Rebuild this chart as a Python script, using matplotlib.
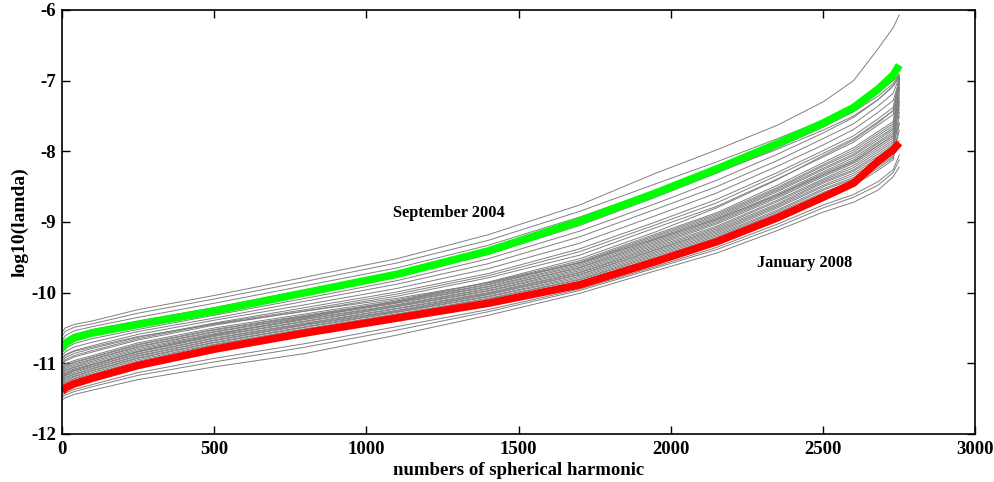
import matplotlib
matplotlib.use("Agg")
import matplotlib.pyplot as plt

plt.rcParams['font.family'] = ['Liberation Serif', 'DejaVu Serif']
plt.rcParams['font.weight'] = 'bold'
plt.rcParams['axes.unicode_minus'] = False

knots = [0, 10, 40, 100, 250, 500, 800, 1100, 1400, 1700, 1950, 2150, 2350, 2500, 2600, 2680, 2730, 2750]

# highlighted months
sep2004 = [-10.80, -10.72, -10.64, -10.57, -10.45, -10.26, -10.00, -9.74, -9.41, -8.99,
           -8.59, -8.25, -7.89, -7.60, -7.38, -7.12, -6.92, -6.78]
jan2008 = [-11.40, -11.35, -11.29, -11.21, -11.03, -10.80, -10.57, -10.36, -10.15, -9.89,
           -9.56, -9.28, -8.94, -8.65, -8.45, -8.14, -7.98, -7.88]

# the other monthly solutions (grey)
others = [
    [-11.52, -11.49, -11.44, -11.38, -11.23, -11.05, -10.86, -10.60, -10.32, -10.01, -9.69, -9.44, -9.12, -8.86, -8.72, -8.55, -8.36, -8.22],
    [-11.48, -11.45, -11.40, -11.33, -11.17, -10.98, -10.77, -10.53, -10.27, -9.97, -9.65, -9.39, -9.07, -8.80, -8.65, -8.48, -8.30, -8.12],
    [-11.46, -11.42, -11.37, -11.30, -11.13, -10.93, -10.72, -10.48, -10.24, -9.95, -9.63, -9.36, -9.03, -8.76, -8.61, -8.43, -8.26, -8.05],
    [-11.39, -11.34, -11.28, -11.20, -11.02, -10.79, -10.56, -10.35, -10.14, -9.88, -9.54, -9.26, -8.92, -8.63, -8.48, -8.27, -8.12, -7.60],
    [-11.37, -11.32, -11.26, -11.18, -11.00, -10.77, -10.54, -10.33, -10.12, -9.86, -9.52, -9.24, -8.89, -8.60, -8.45, -8.24, -8.09, -7.70],
    [-11.35, -11.30, -11.24, -11.17, -10.99, -10.76, -10.53, -10.32, -10.11, -9.84, -9.50, -9.22, -8.87, -8.58, -8.42, -8.21, -8.07, -7.90],
    [-11.33, -11.28, -11.22, -11.15, -10.97, -10.74, -10.52, -10.31, -10.09, -9.82, -9.48, -9.20, -8.85, -8.55, -8.39, -8.18, -8.04, -7.45],
    [-11.32, -11.27, -11.21, -11.13, -10.95, -10.73, -10.51, -10.30, -10.08, -9.81, -9.46, -9.18, -8.83, -8.53, -8.37, -8.16, -8.01, -7.20],
    [-11.30, -11.25, -11.19, -11.11, -10.93, -10.71, -10.49, -10.28, -10.06, -9.79, -9.44, -9.16, -8.80, -8.50, -8.34, -8.13, -7.98, -7.85],
    [-11.28, -11.23, -11.18, -11.10, -10.92, -10.70, -10.48, -10.27, -10.05, -9.77, -9.42, -9.14, -8.78, -8.48, -8.31, -8.10, -7.95, -7.50],
    [-11.26, -11.21, -11.16, -11.08, -10.90, -10.68, -10.46, -10.26, -10.03, -9.75, -9.40, -9.12, -8.76, -8.45, -8.28, -8.07, -7.92, -7.30],
    [-11.25, -11.20, -11.15, -11.07, -10.89, -10.67, -10.45, -10.25, -10.02, -9.74, -9.39, -9.10, -8.74, -8.43, -8.26, -8.04, -7.90, -7.00],
    [-11.23, -11.18, -11.13, -11.05, -10.87, -10.65, -10.44, -10.23, -10.01, -9.72, -9.37, -9.08, -8.71, -8.41, -8.23, -8.01, -7.87, -7.60],
    [-11.21, -11.17, -11.11, -11.04, -10.86, -10.64, -10.43, -10.22, -10.00, -9.71, -9.35, -9.06, -8.69, -8.39, -8.20, -7.98, -7.84, -7.35],
    [-11.21, -11.16, -11.10, -11.02, -10.83, -10.60, -10.36, -10.12, -9.85, -9.52, -9.14, -8.80, -8.40, -8.06, -7.84, -7.60, -7.42, -6.97],
    [-11.19, -11.15, -11.09, -11.02, -10.84, -10.62, -10.41, -10.20, -9.98, -9.69, -9.33, -9.03, -8.66, -8.36, -8.17, -7.95, -7.81, -7.15],
    [-11.18, -11.13, -11.08, -11.01, -10.83, -10.61, -10.40, -10.19, -9.97, -9.67, -9.31, -9.01, -8.64, -8.34, -8.15, -7.92, -7.78, -7.10],
    [-11.16, -11.11, -11.06, -10.99, -10.81, -10.59, -10.38, -10.18, -9.95, -9.65, -9.29, -8.99, -8.62, -8.31, -8.12, -7.89, -7.75, -7.40],
    [-11.14, -11.10, -11.05, -10.97, -10.79, -10.58, -10.37, -10.17, -9.94, -9.64, -9.27, -8.97, -8.60, -8.29, -8.09, -7.87, -7.72, -7.30],
    [-11.12, -11.08, -11.03, -10.95, -10.77, -10.56, -10.35, -10.15, -9.92, -9.62, -9.25, -8.95, -8.57, -8.26, -8.06, -7.84, -7.69, -7.05],
    [-11.11, -11.06, -11.01, -10.94, -10.76, -10.55, -10.34, -10.14, -9.91, -9.60, -9.23, -8.93, -8.55, -8.24, -8.04, -7.81, -7.67, -6.97],
    [-11.09, -11.04, -10.99, -10.92, -10.74, -10.53, -10.33, -10.13, -9.89, -9.58, -9.21, -8.91, -8.53, -8.21, -8.01, -7.78, -7.64, -7.25],
    [-11.07, -11.03, -10.98, -10.91, -10.73, -10.52, -10.32, -10.12, -9.88, -9.57, -9.19, -8.89, -8.51, -8.19, -7.98, -7.75, -7.61, -7.12],
    [-11.05, -11.01, -10.96, -10.89, -10.71, -10.50, -10.30, -10.10, -9.86, -9.55, -9.17, -8.87, -8.48, -8.16, -7.95, -7.72, -7.58, -6.98],
    [-11.01, -10.97, -10.91, -10.84, -10.67, -10.46, -10.26, -10.05, -9.79, -9.47, -9.08, -8.78, -8.39, -8.08, -7.87, -7.63, -7.48, -7.10],
    [-11.00, -10.95, -10.89, -10.82, -10.65, -10.44, -10.24, -10.02, -9.76, -9.42, -9.04, -8.73, -8.34, -8.03, -7.82, -7.58, -7.43, -7.02],
    [-10.98, -10.92, -10.86, -10.79, -10.63, -10.43, -10.21, -9.99, -9.73, -9.38, -9.00, -8.68, -8.30, -7.99, -7.78, -7.54, -7.38, -6.96],
    [-10.94, -10.89, -10.83, -10.77, -10.62, -10.45, -10.26, -10.08, -9.86, -9.58, -9.24, -8.96, -8.62, -8.33, -8.14, -7.92, -7.78, -7.05],
    [-10.94, -10.88, -10.82, -10.75, -10.59, -10.39, -10.17, -9.94, -9.66, -9.30, -8.91, -8.59, -8.21, -7.91, -7.69, -7.45, -7.28, -7.00],
    [-10.90, -10.84, -10.77, -10.70, -10.55, -10.36, -10.12, -9.88, -9.59, -9.21, -8.82, -8.50, -8.13, -7.82, -7.61, -7.36, -7.18, -6.95],
    [-10.86, -10.79, -10.72, -10.65, -10.52, -10.32, -10.08, -9.83, -9.52, -9.13, -8.74, -8.41, -8.04, -7.74, -7.52, -7.27, -7.08, -6.94],
    [-10.83, -10.75, -10.67, -10.60, -10.48, -10.28, -10.03, -9.78, -9.46, -9.05, -8.65, -8.31, -7.95, -7.66, -7.44, -7.18, -6.99, -6.93],
    [-10.74, -10.66, -10.59, -10.52, -10.40, -10.21, -9.96, -9.71, -9.39, -8.99, -8.61, -8.30, -7.97, -7.70, -7.50, -7.27, -7.07, -6.94],
    [-10.68, -10.61, -10.54, -10.48, -10.35, -10.15, -9.90, -9.65, -9.33, -8.93, -8.55, -8.23, -7.89, -7.63, -7.44, -7.22, -7.04, -6.92],
    [-10.62, -10.55, -10.49, -10.44, -10.29, -10.09, -9.84, -9.58, -9.26, -8.85, -8.46, -8.15, -7.82, -7.56, -7.38, -7.17, -7.00, -6.91],
    [-10.57, -10.50, -10.45, -10.40, -10.24, -10.04, -9.78, -9.52, -9.18, -8.76, -8.31, -7.98, -7.63, -7.30, -7.00, -6.55, -6.25, -6.07],
]

xticks = [0, 500, 1000, 1500, 2000, 2500, 3000]
yticks = [-12, -11, -10, -9, -8, -7, -6]

fig = plt.figure(figsize=(9.95, 4.82), dpi=100)
ax = fig.add_axes([0.0623, 0.0996, 0.918, 0.8797])

for curve in others:
    ax.plot(knots, curve, color='0.5', linewidth=0.7)

ax.plot(knots, sep2004, color='#00ff00', linewidth=5.5, solid_capstyle='butt', solid_joinstyle='round')
ax.plot(knots, jan2008, color='#ff0000', linewidth=5.5, solid_capstyle='butt', solid_joinstyle='round')

ax.text(1272, -8.87, 'September 2004', ha='center', va='center', fontsize=11.8, fontweight='bold')
ax.text(2438, -9.58, 'January 2008', ha='center', va='center', fontsize=11.8, fontweight='bold')

ax.set_xlim(0, 3000)
ax.set_ylim(-12, -6)
ax.set_xticks(xticks)
ax.set_yticks(yticks)
ax.tick_params(direction='in', top=True, right=True, length=6, width=1, labelsize=13.5)
ax.tick_params(axis='x', pad=5)
ax.tick_params(axis='y', pad=4)
for lbl in ax.get_xticklabels() + ax.get_yticklabels():
    lbl.set_fontweight('bold')
for sp in ax.spines.values():
    sp.set_linewidth(1.2)

ax.set_xlabel('numbers of spherical harmonic', fontsize=13.5, fontweight='bold', labelpad=3)
ax.set_ylabel('log10(lamda)', fontsize=14, fontweight='bold', labelpad=2)

fig.savefig('out.png', dpi=100)
